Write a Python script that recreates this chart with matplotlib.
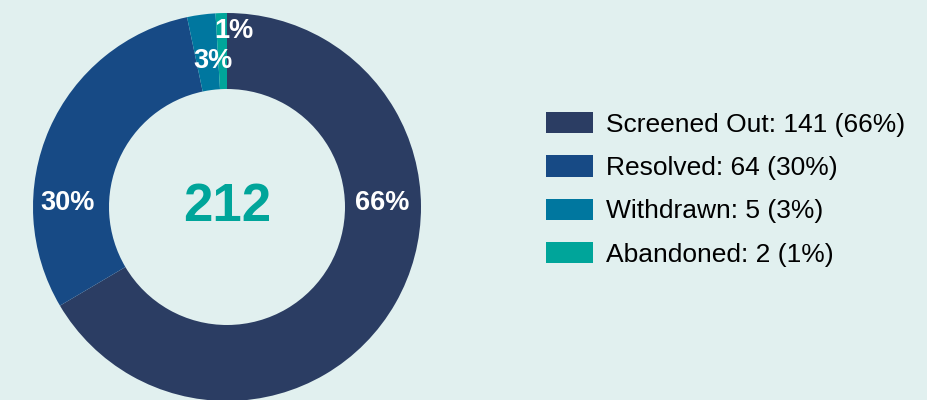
import matplotlib.pyplot as plt
from matplotlib.patches import Patch

# data
categories = ['Screened Out', 'Resolved', 'Withdrawn', 'Abandoned']
counts = [141, 64, 5, 2]
pct_labels = ['66%', '30%', '3%', '1%']
colors = ['#2B3D63', '#174A85', '#00779F', '#00A59A']
total = sum(counts)

bg = '#E1F0EF'
plt.rcParams['font.family'] = ['Liberation Sans', 'DejaVu Sans']

fig = plt.figure(figsize=(9.28, 4.0), dpi=100, facecolor=bg)
# donut axes placed in pixels: centre (227, 207), radius 194
ax = fig.add_axes([33 / 928, (400 - 401) / 400, 388 / 928, 388 / 400])
ax.set_facecolor(bg)
wedges, _ = ax.pie(counts, colors=colors, startangle=90, counterclock=False,
                   radius=1, wedgeprops=dict(width=1 - 118 / 194, linewidth=0))
ax.set_xlim(-1, 1)
ax.set_ylim(-1, 1)
ax.set_aspect('equal')
ax.axis('off')

# percent labels around the ring
label_pos = [(0.80, 0.02), (-0.822, 0.02), (-0.07, 0.752), (0.036, 0.905)]
for (x, y), t in zip(label_pos, pct_labels):
    ax.text(x, y, t, color='white', fontsize=19.5, fontweight='bold',
            ha='center', va='center')

ax.text(0.003, 0.0, str(total), color='#00A59A', fontsize=38, fontweight='bold',
        ha='center', va='center')

fs = 19
fs_px = fs * 100 / 72
handles = [Patch(facecolor=c, edgecolor='none') for c in colors]
labels = [f'{n}: {v} ({p})' for n, v, p in zip(categories, counts, pct_labels)]
fig.legend(handles, labels, loc='upper left', bbox_to_anchor=(546 / 928, 1 - 112 / 400),
           frameon=False, fontsize=fs, handlelength=47 / fs_px, handleheight=23 / fs_px,
           handletextpad=13 / fs_px, labelspacing=0.70, borderpad=0, borderaxespad=0)

fig.savefig('out.png', dpi=100, facecolor=bg)
